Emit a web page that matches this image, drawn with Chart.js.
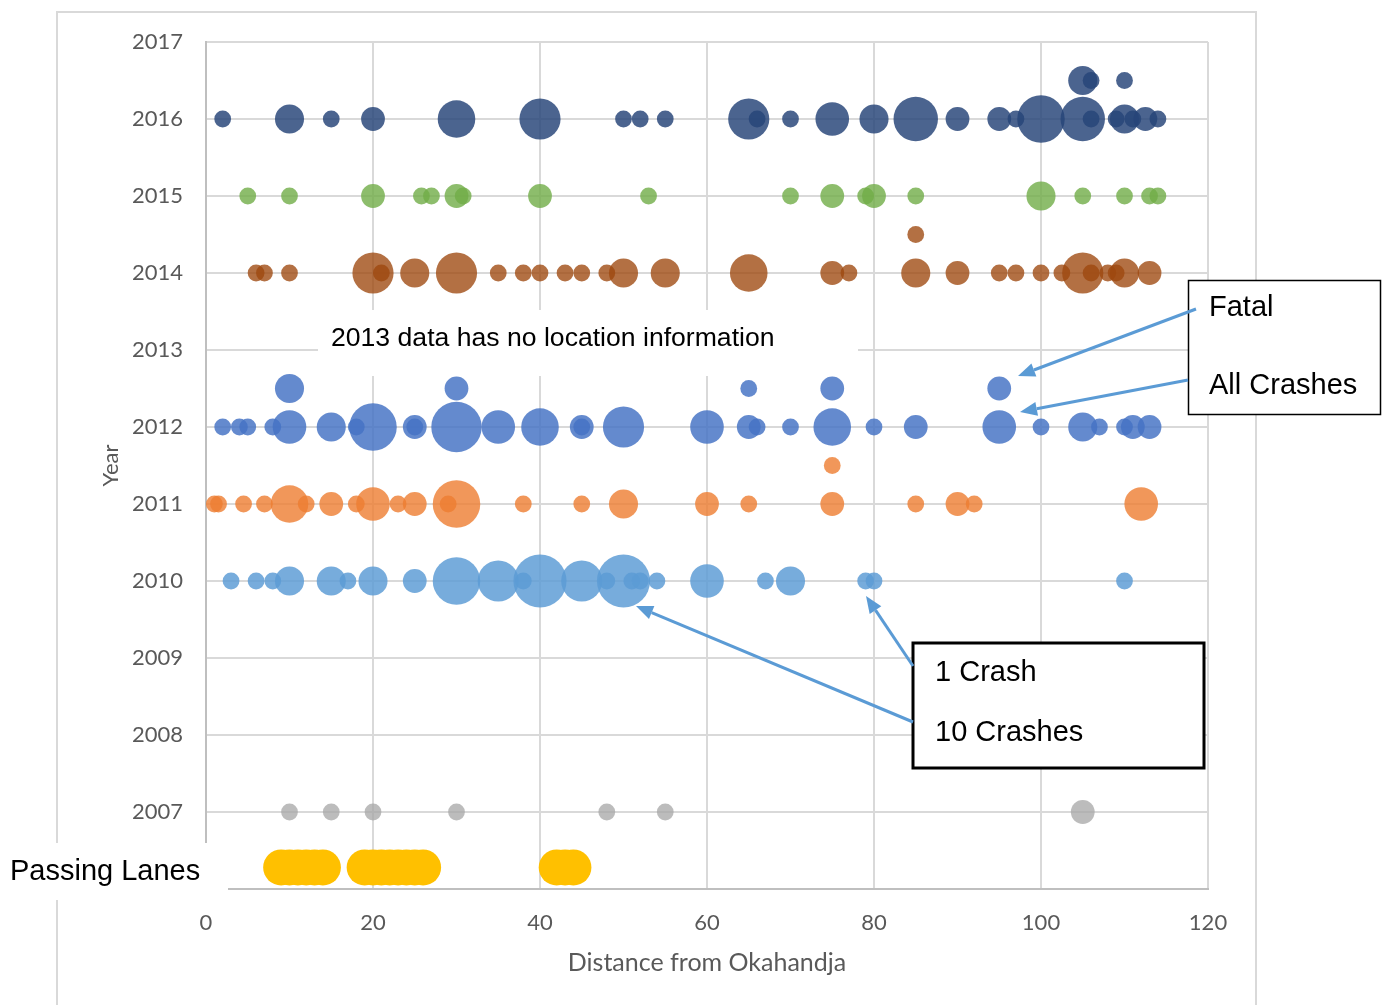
<!DOCTYPE html>
<html>
<head>
<meta charset="utf-8">
<script src="https://cdn.jsdelivr.net/npm/chart.js@4.4.0/dist/chart.umd.min.js"></script>
<style>
  html, body { margin: 0; padding: 0; background: #fff; }
  canvas { display: block; }
</style>
</head>
<body>
<canvas id="crash-bubble-chart" width="1387" height="1005"></canvas>
<script>
// each point: [distance from Okahandja, number of crashes]
const crashes2016 = [[2,1],[10,3],[15,1],[20,2],[30,5],[40,6],[50,1],[52,1],[55,1],[65,6],[66,1],[70,1],[75,4],[80,3],[85,7],[90,2],[95,2],[97,1],[100,8],[105,7],[106,1],[109,1],[110,3],[111,1],[112.5,2],[114,1]];
const fatal2016 = [[105,3],[106,1],[110,1]];

const crashes2015 = [[5,1],[10,1],[20,2],[25.8,1],[27,1],[30,2],[30.8,1],[40,2],[53,1],[70,1],[75,2],[79,1],[80,2],[85,1],[100,3],[105,1],[110,1],[113,1],[114,1]];

const crashes2014 = [[6,1],[7,1],[10,1],[20,6],[21,1],[25,3],[30,6],[35,1],[38,1],[40,1],[43,1],[45,1],[48,1],[50,3],[55,3],[65,5],[75,2],[77,1],[85,3],[90,2],[95,1],[97,1],[100,1],[102.5,1],[105,6],[106,1],[108,1],[109,1],[110,3],[113,2]];
const fatal2014 = [[85,1]];

const crashes2012 = [[2,1],[4,1],[5,1],[8,1],[10,4],[15,3],[18,1],[20,8],[25,2],[25,1],[30,9],[35,4],[40,5],[45,2],[45,1],[50,6],[60,4],[65,2],[66,1],[70,1],[75,5],[80,1],[85,2],[95,4],[100,1],[105,3],[107,1],[110,1],[111,2],[113,2]];
const fatal2012 = [[10,3],[30,2],[65,1],[75,2],[95,2]];

const crashes2011 = [[1,1],[1.5,1],[4.5,1],[7,1],[10,5],[12,1],[15,2],[18,1],[20,4],[23,1],[25,2],[29,1],[30,8],[38,1],[45,1],[50,3],[60,2],[65,1],[75,2],[85,1],[90,2],[92,1],[112,4]];
const fatal2011 = [[75,1]];

const crashes2010 = [[3,1],[6,1],[8,1],[10,3],[15,3],[17,1],[20,3],[25,2],[30,8],[35,6],[38,1],[40,10],[45,6],[48,1],[50,10],[51,1],[52,1],[54,1],[60,4],[67,1],[70,3],[79,1],[80,1],[110,1]];

const crashes2007 = [[10,1],[15,1],[20,1],[30,1],[48,1],[55,1],[105,2]];

// passing lanes, km markers
const passingLaneKm = [9,10,11,12,13,14,19,20,21,22,23,24,25,26,42,43,44];
const passingLaneRow = 2006.28;

const yearMin = 2006, yearMax = 2017;
const kmMin = 0, kmMax = 120, kmStep = 20;

const bubbleR = n => 8.4 * Math.sqrt(n);
const pts = (arr, year) => arr.map(([x, n]) => ({ x: x, y: year, r: bubbleR(n) }));

const series = [
  { label: '2016', all: crashes2016, fatal: fatal2016, year: 2016, color: 'rgba(38,68,120,0.83)' },
  { label: '2015', all: crashes2015, fatal: [], year: 2015, color: 'rgba(112,173,71,0.8)' },
  { label: '2014', all: crashes2014, fatal: fatal2014, year: 2014, color: 'rgba(158,72,14,0.78)' },
  { label: '2012', all: crashes2012, fatal: fatal2012, year: 2012, color: 'rgba(68,114,196,0.83)' },
  { label: '2011', all: crashes2011, fatal: fatal2011, year: 2011, color: 'rgba(237,125,49,0.8)' },
  { label: '2010', all: crashes2010, fatal: [], year: 2010, color: 'rgba(91,155,213,0.83)' },
  { label: '2007', all: crashes2007, fatal: [], year: 2007, color: 'rgba(165,165,165,0.75)' }
];

const datasets = [];
series.forEach(s => {
  datasets.push({
    label: s.label,
    data: pts(s.all, s.year).concat(pts(s.fatal, s.year + 0.5)),
    backgroundColor: s.color,
    borderWidth: 0,
    hoverBorderWidth: 0,
    clip: false
  });
});
datasets.push({
  label: 'Passing Lanes',
  data: passingLaneKm.map(k => ({ x: k, y: passingLaneRow, r: 18 })),
  backgroundColor: '#FFC000',
  borderWidth: 0,
  clip: false
});

function arrow(ctx, x1, y1, x2, y2) {
  const a = Math.atan2(y2 - y1, x2 - x1);
  const len = 17, w = 7;
  const bx = x2 - len * Math.cos(a), by = y2 - len * Math.sin(a);
  ctx.beginPath();
  ctx.moveTo(x1, y1);
  ctx.lineTo(bx, by);
  ctx.stroke();
  ctx.beginPath();
  ctx.moveTo(x2, y2);
  ctx.lineTo(bx + w * Math.sin(a), by - w * Math.cos(a));
  ctx.lineTo(bx - w * Math.sin(a), by + w * Math.cos(a));
  ctx.closePath();
  ctx.fill();
}

const notes = {
  id: 'notes',
  beforeDraw(chart) {
    const ctx = chart.ctx;
    ctx.save();
    ctx.fillStyle = '#fff';
    ctx.fillRect(0, 0, chart.width, chart.height);
    ctx.strokeStyle = '#d9d9d9';
    ctx.lineWidth = 2;
    ctx.strokeRect(57, 12, 1199, 1100);
    ctx.restore();
  },
  afterDraw(chart) {
    const ctx = chart.ctx;
    ctx.save();
    // white label boxes
    ctx.fillStyle = '#fff';
    ctx.fillRect(0, 843, 228, 57);
    ctx.fillRect(318, 310, 540, 66);

    ctx.fillStyle = '#000';
    ctx.textBaseline = 'middle';
    ctx.font = '26.6px "Liberation Sans", Arial, sans-serif';
    ctx.fillText('2013 data has no location information', 331, 339);
    ctx.font = '29px "Liberation Sans", Arial, sans-serif';
    ctx.fillText('Passing Lanes', 10, 872);

    // legend-like boxes
    ctx.strokeStyle = '#000';
    ctx.lineWidth = 1.5;
    ctx.fillStyle = '#fff';
    ctx.fillRect(1188, 280, 192, 134);
    ctx.strokeRect(1188.5, 280.5, 192, 134);
    ctx.lineWidth = 3;
    ctx.fillRect(912, 642, 292, 126);
    ctx.strokeRect(913, 643, 291, 125);
    ctx.fillStyle = '#000';
    ctx.fillText('Fatal', 1209, 308);
    ctx.fillText('All Crashes', 1209, 386);
    ctx.fillText('1 Crash', 935, 673);
    ctx.fillText('10 Crashes', 935, 733);

    // arrows
    ctx.strokeStyle = '#5B9BD5';
    ctx.fillStyle = '#5B9BD5';
    ctx.lineWidth = 3;
    arrow(ctx, 1196, 309, 1018, 376);
    arrow(ctx, 1188, 380, 1020, 412);
    arrow(ctx, 913, 666, 866, 596);
    arrow(ctx, 913, 722, 636, 606);
    ctx.restore();
  }
};

const tickFont = { family: 'Lato, "Open Sans", sans-serif', size: 22 };

new Chart(document.getElementById('crash-bubble-chart'), {
  type: 'bubble',
  data: { datasets: datasets },
  options: {
    responsive: false,
    animation: false,
    devicePixelRatio: 1,
    layout: { padding: { left: 0, top: 42, right: 179, bottom: 0 } },
    plugins: {
      legend: { display: false },
      tooltip: { enabled: false }
    },
    scales: {
      x: {
        type: 'linear',
        min: kmMin,
        max: kmMax,
        afterFit: s => { s.height = 116; },
        ticks: { stepSize: kmStep, color: '#595959', font: tickFont, padding: 21 },
        grid: { color: '#d9d9d9', lineWidth: 2, drawTicks: false },
        border: { color: '#bfbfbf', width: 2 },
        title: {
          display: true,
          text: 'Distance from Okahandja',
          color: '#595959',
          font: { family: 'Lato, "Open Sans", sans-serif', size: 25 },
          padding: { top: 0, bottom: 27 }
        }
      },
      y: {
        type: 'linear',
        min: yearMin,
        max: yearMax,
        afterFit: s => { s.width = 206; },
        ticks: {
          stepSize: 1,
          color: '#595959',
          font: tickFont,
          padding: 23,
          callback: v => (v === yearMin ? '' : String(v))
        },
        grid: { color: '#d9d9d9', lineWidth: 2, drawTicks: false },
        border: { color: '#bfbfbf', width: 2 },
        title: {
          display: true,
          text: 'Year',
          color: '#595959',
          font: { family: 'Lato, "Open Sans", sans-serif', size: 22 },
          padding: { top: 98, bottom: 0 }
        }
      }
    }
  },
  plugins: [notes]
});
</script>
</body>
</html>
